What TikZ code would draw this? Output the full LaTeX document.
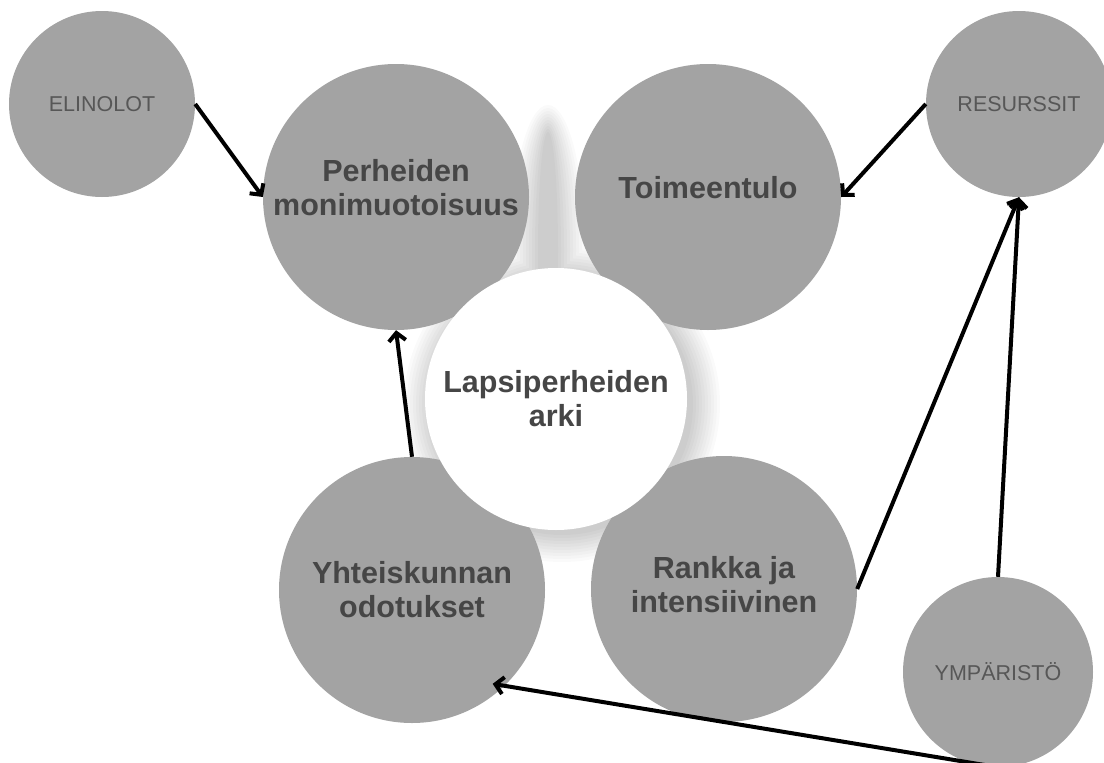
\documentclass[tikz,border=0pt]{standalone}
\usepackage{fontspec}
\setmainfont{Liberation Sans}
\usetikzlibrary{arrows.meta}

\definecolor{discgray}{HTML}{A3A3A3}
\definecolor{inkgray}{HTML}{464646}
\definecolor{softgray}{HTML}{575757}

\tikzset{
	bigdisc/.style={circle, fill=discgray, inner sep=0pt, minimum size=266pt, align=center, text=inkgray, font=\bfseries\fontsize{30.5}{34}\selectfont},
	hubdisc/.style={bigdisc, fill=white, minimum size=262pt},
	smalldisc/.style={circle, fill=discgray, inner sep=0pt, minimum size=186pt, text=softgray, font=\fontsize{21.5}{24}\selectfont},
	link/.style={line width=4pt, -{Straight Barb[length=8pt,width=17pt]}},
}

\begin{document}
\begin{tikzpicture}[x=1pt, y=-1pt]
	\useasboundingbox[fill=white] (0,0) rectangle (1104,763);
	
	% soft shadow behind the middle
	\foreach \b in {0,3,...,27}
		\fill[black, opacity=0.021] (562,404) circle ({131+\b}) (548,250) ellipse ({10+\b} and {118+\b});
	
	\node[smalldisc] (elinolot) at (102,104) {ELINOLOT};
	\node[smalldisc] (resurssit) at (1019,104) {RESURSSIT};
	\node[smalldisc, minimum size=190pt] (ymparisto) at (998,672) {YMPÄRISTÖ};
	
	\node[bigdisc, text depth=20pt] (perheet) at (396,197) {Perheiden\\monimuotoisuus};
	\node[bigdisc, text depth=20pt] (toimeentulo) at (708,197) {Toimeentulo};
	\node[bigdisc] (odotukset) at (412,590) {Yhteiskunnan\\odotukset};
	\node[bigdisc, text depth=10pt] (rankka) at (724,589) {Rankka ja\\intensiivinen};
	\node[hubdisc] (arki) at (556,399) {Lapsiperheiden\\arki};
	
	\draw[link] (elinolot.east) -- (perheet.west);
	\draw[link] (resurssit.west) -- (toimeentulo.east);
	\draw[link] (odotukset.north) -- (perheet.south);
	\draw[link] (rankka.east) -- (resurssit.south);
	\draw[link] (ymparisto.north) -- (resurssit.south);
	\draw[link, shorten >=-12pt] (ymparisto.south) -- (odotukset.-46);
	
\end{tikzpicture}
\end{document}
